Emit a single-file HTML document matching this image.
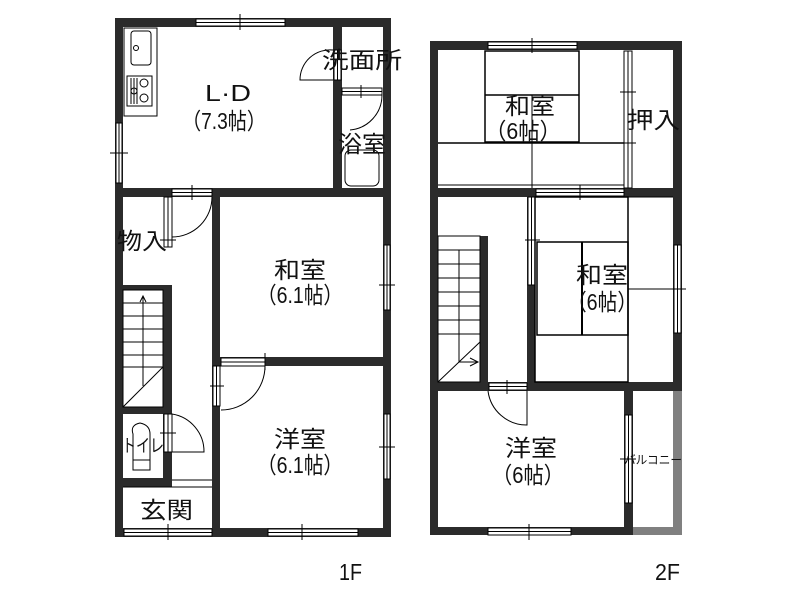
<!DOCTYPE html>
<html><head><meta charset="utf-8"><style>
html,body{margin:0;padding:0;background:#fff;}
svg{display:block}
text{font-family:"Liberation Sans","Noto Sans CJK JP",sans-serif;fill:#111;}
</style></head><body>
<svg width="800" height="600" viewBox="0 0 800 600" xmlns="http://www.w3.org/2000/svg">
<g fill="#2b2b2b">
<rect x="115" y="18" width="276" height="9"/>
<rect x="115" y="18" width="8" height="519"/>
<rect x="383" y="18" width="8" height="519"/>
<rect x="115" y="528" width="276" height="9"/>
<rect x="115" y="188" width="276" height="9"/>
<rect x="333" y="18" width="9" height="179"/>
<rect x="212" y="188" width="8" height="349"/>
<rect x="212" y="357" width="179" height="9"/>
<rect x="163" y="285" width="9" height="202"/>
<rect x="115" y="285" width="57" height="5"/>
<rect x="115" y="407" width="57" height="7"/>
<rect x="115" y="478" width="57" height="9"/>
<rect x="430" y="41" width="252" height="9"/>
<rect x="430" y="41" width="8" height="494"/>
<rect x="673" y="41" width="9" height="350"/>
<rect x="430" y="527" width="203" height="8"/>
<rect x="430" y="188" width="252" height="9"/>
<rect x="527" y="188" width="8" height="203"/>
<rect x="430" y="382" width="252" height="9"/>
<rect x="480" y="236" width="8" height="155"/>
<rect x="624" y="382" width="9" height="153"/>
</g>
<rect x="673" y="391" width="9" height="144" fill="#808080"/>
<rect x="633" y="527" width="49" height="8" fill="#808080"/>

<g fill="#fff" stroke="#000" stroke-width="1">
<rect x="196" y="19" width="89" height="7"/><line x1="196" y1="22.5" x2="285" y2="22.5"/>
<rect x="116" y="123" width="6" height="60"/><line x1="119" y1="123" x2="119" y2="183"/>
<rect x="384" y="245" width="6" height="65"/><line x1="387" y1="245" x2="387" y2="310"/>
<rect x="384" y="414" width="6" height="65"/><line x1="387" y1="414" x2="387" y2="479"/>
<rect x="268" y="529" width="90" height="7"/><line x1="268" y1="532.5" x2="358" y2="532.5"/>
<rect x="124" y="529" width="88" height="7"/><line x1="124" y1="532.5" x2="212" y2="532.5"/>
<rect x="172" y="189" width="40" height="7"/><line x1="172" y1="192.5" x2="212" y2="192.5"/>
<rect x="164" y="197" width="8" height="50"/><line x1="168" y1="197" x2="168" y2="247"/>
<rect x="221" y="358" width="44" height="8"/><line x1="221" y1="362" x2="265" y2="362"/>
<rect x="213" y="366" width="7" height="40"/><line x1="216.5" y1="366" x2="216.5" y2="406"/>
<rect x="164" y="414" width="8" height="38"/><line x1="168" y1="414" x2="168" y2="452"/>
<rect x="334" y="50" width="7" height="30"/><line x1="337.5" y1="50" x2="337.5" y2="80"/>
<rect x="342" y="88" width="40" height="7"/><line x1="342" y1="91.5" x2="382" y2="91.5"/>
<rect x="488" y="42" width="89" height="7"/><line x1="488" y1="45.5" x2="577" y2="45.5"/>
<rect x="488" y="528" width="83" height="7"/><line x1="488" y1="531.5" x2="571" y2="531.5"/>
<rect x="674" y="245" width="7" height="88"/><line x1="677.5" y1="245" x2="677.5" y2="333"/>
<rect x="625" y="415" width="7" height="88"/><line x1="628.5" y1="415" x2="628.5" y2="503"/>
<rect x="536" y="189" width="88" height="7"/><line x1="536" y1="192.5" x2="624" y2="192.5"/>
<rect x="528" y="197" width="7" height="88"/><line x1="531.5" y1="197" x2="531.5" y2="285"/>
<rect x="489" y="383" width="38" height="7"/><line x1="489" y1="386.5" x2="527" y2="386.5"/>
</g>

<g fill="none" stroke="#000" stroke-width="1">
<line x1="240" y1="14" x2="240" y2="30"/><line x1="110" y1="153" x2="128" y2="153"/>
<line x1="379" y1="285" x2="395" y2="285"/><line x1="379" y1="447" x2="395" y2="447"/>
<line x1="302" y1="524" x2="302" y2="540"/><line x1="168" y1="524" x2="168" y2="540"/>
<line x1="192" y1="185" x2="192" y2="200"/><line x1="160" y1="240" x2="176" y2="240"/>
<line x1="265" y1="353" x2="265" y2="370"/><line x1="210" y1="386" x2="224" y2="386"/>
<line x1="160" y1="433" x2="176" y2="433"/><line x1="361" y1="85" x2="361" y2="98"/>
<line x1="532" y1="38" x2="532" y2="53"/><line x1="529" y1="524" x2="529" y2="540"/>
<line x1="670" y1="289" x2="686" y2="289"/><line x1="620" y1="459" x2="636" y2="459"/>
<line x1="580" y1="185" x2="580" y2="200"/><line x1="525" y1="240" x2="540" y2="240"/>
<line x1="507" y1="380" x2="507" y2="394"/>
<path d="M212 197 A40 40 0 0 1 172 237 L172 197"/>
<path d="M265 366 A44 44 0 0 1 221 410"/>
<path d="M172 414 A38 38 0 0 1 204 452 L172 452"/>
<path d="M333 50 A30 30 0 0 0 300 80 L333 80"/>
<path d="M382 95 A35 35 0 0 1 350 130"/>
<path d="M488 391 A39 39 0 0 0 527 425 L527 391"/>
<rect x="124" y="28" width="33" height="88"/>
<rect x="131" y="31" width="20" height="34" rx="3"/>
<circle cx="136" cy="48" r="2.5"/>
<rect x="127" y="76" width="25" height="30"/>
<line x1="131" y1="78" x2="131" y2="104"/><line x1="134" y1="78" x2="134" y2="104"/><line x1="137" y1="78" x2="137" y2="104"/>
<circle cx="144" cy="83" r="4"/><circle cx="144" cy="98" r="4"/><circle cx="134" cy="91" r="3"/>
<rect x="345" y="150" width="34" height="36" rx="6"/>
<path d="M133 434 Q130 425 140 423 Q150 425 150 434 L150 470 L133 470 Z"/>
<line x1="133" y1="460" x2="150" y2="460"/>
<rect x="123" y="290" width="40" height="117"/>
<line x1="123" y1="303" x2="163" y2="303"/><line x1="123" y1="316" x2="163" y2="316"/>
<line x1="123" y1="329" x2="163" y2="329"/><line x1="123" y1="342" x2="163" y2="342"/>
<line x1="123" y1="355" x2="163" y2="355"/><line x1="123" y1="367" x2="163" y2="367"/>
<line x1="123" y1="407" x2="163" y2="367"/><line x1="143" y1="296" x2="143" y2="386"/>
<path d="M140 302 L143 296 L146 302"/>
<line x1="123" y1="487" x2="212" y2="487"/>
<line x1="172" y1="480" x2="212" y2="480"/>
<rect x="438" y="236" width="42" height="146"/>
<line x1="438" y1="250" x2="480" y2="250"/><line x1="438" y1="264" x2="480" y2="264"/>
<line x1="438" y1="278" x2="480" y2="278"/><line x1="438" y1="292" x2="480" y2="292"/>
<line x1="438" y1="306" x2="480" y2="306"/><line x1="438" y1="320" x2="480" y2="320"/>
<line x1="438" y1="334" x2="480" y2="334"/><line x1="438" y1="382" x2="480" y2="342"/>
<line x1="459" y1="250" x2="459" y2="362"/>
<line x1="459" y1="362" x2="478" y2="362"/><path d="M470 358 L478 362 L470 366"/>
<rect x="485" y="51" width="94" height="91" stroke-width="1.5"/>
<line x1="485" y1="95" x2="579" y2="95" stroke-width="1.5"/>
<line x1="438" y1="143" x2="624" y2="143" stroke-width="1.5"/>
<line x1="438" y1="185" x2="624" y2="185"/>
<line x1="532" y1="95" x2="532" y2="188"/>
<rect x="624" y="51" width="8" height="137" fill="#fff"/>
<line x1="628" y1="51" x2="628" y2="188"/>
<line x1="620" y1="92" x2="636" y2="92"/><line x1="620" y1="143" x2="636" y2="143"/>
<rect x="535" y="197" width="93" height="185" stroke-width="1.5"/>
<rect x="537" y="242" width="91" height="93" stroke-width="1.5"/>
<line x1="582" y1="242" x2="582" y2="335" stroke-width="2"/>
<line x1="628" y1="289" x2="673" y2="289"/>
<line x1="628" y1="197" x2="673" y2="197"/>
</g>

<g font-size="23" lengthAdjust="spacingAndGlyphs">
<text x="205" y="101" textLength="46" lengthAdjust="spacingAndGlyphs">L·D</text>
<text x="182" y="129" textLength="84" lengthAdjust="spacingAndGlyphs">（7.3帖）</text>
<text x="322" y="68" textLength="80" lengthAdjust="spacingAndGlyphs">洗面所</text>
<text x="338" y="152" textLength="48" lengthAdjust="spacingAndGlyphs">浴室</text>
<text x="117" y="249" textLength="50" lengthAdjust="spacingAndGlyphs">物入</text>
<text x="274" y="278" textLength="52" lengthAdjust="spacingAndGlyphs">和室</text>
<text x="257" y="303" textLength="86" lengthAdjust="spacingAndGlyphs">（6.1帖）</text>
<text x="274" y="447" textLength="52" lengthAdjust="spacingAndGlyphs">洋室</text>
<text x="257" y="473" textLength="86" lengthAdjust="spacingAndGlyphs">（6.1帖）</text>
<text x="140" y="518" textLength="53" lengthAdjust="spacingAndGlyphs">玄関</text>
<text x="505" y="114" textLength="50" lengthAdjust="spacingAndGlyphs">和室</text>
<text x="485" y="139" textLength="76" lengthAdjust="spacingAndGlyphs">（6帖）</text>
<text x="627" y="128" textLength="53" lengthAdjust="spacingAndGlyphs">押入</text>
<text x="576" y="283" textLength="52" lengthAdjust="spacingAndGlyphs">和室</text>
<text x="567" y="310" textLength="70" lengthAdjust="spacingAndGlyphs">（6帖）</text>
<text x="505" y="456" textLength="52" lengthAdjust="spacingAndGlyphs">洋室</text>
<text x="492" y="483" textLength="72" lengthAdjust="spacingAndGlyphs">（6帖）</text>
<text x="339" y="580" textLength="23" lengthAdjust="spacingAndGlyphs">1F</text>
<text x="655" y="580" textLength="25" lengthAdjust="spacingAndGlyphs">2F</text>
</g>
<text x="122" y="452" font-size="18" textLength="42" lengthAdjust="spacingAndGlyphs">トイレ</text>
<text x="624" y="464" font-size="12" textLength="58" lengthAdjust="spacingAndGlyphs">バルコニー</text>
</svg>
</body></html>
